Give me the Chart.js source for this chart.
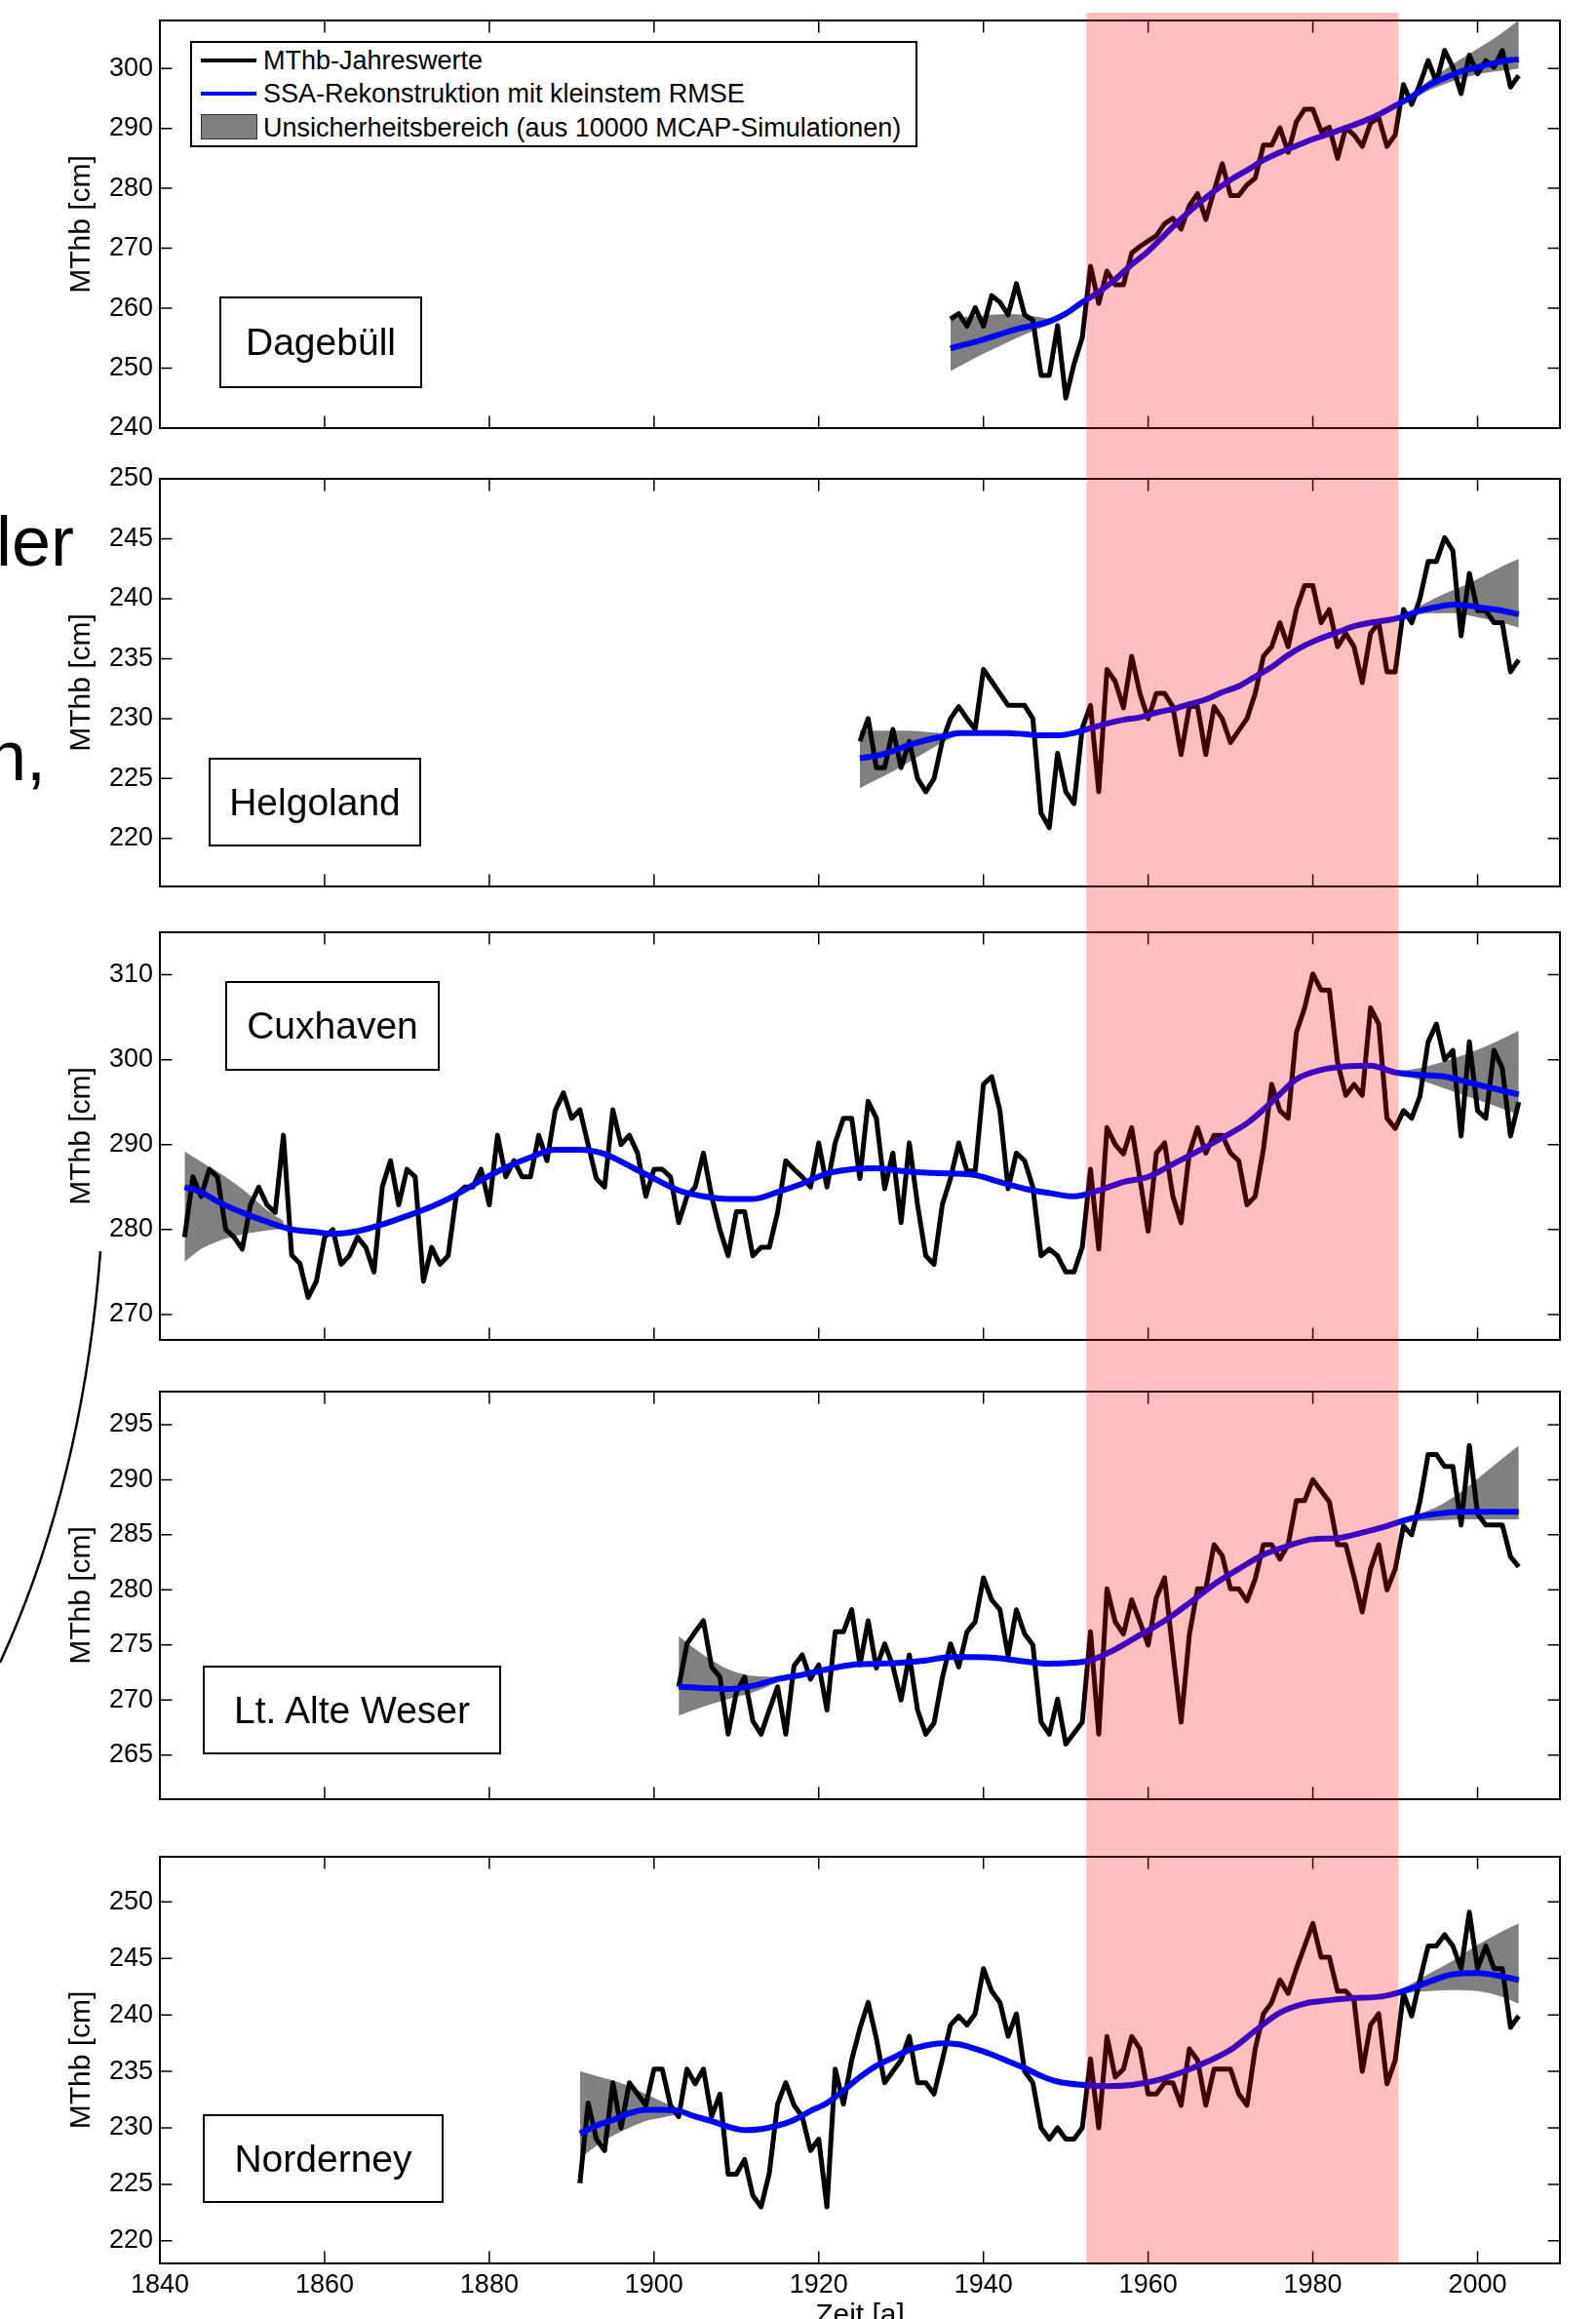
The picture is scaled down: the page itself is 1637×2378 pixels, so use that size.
<!DOCTYPE html>
<html>
<head>
<meta charset="utf-8">
<title>MThb Jahreswerte und SSA-Rekonstruktion</title>
<script src="https://cdn.jsdelivr.net/npm/chart.js@4.4.1/dist/chart.umd.min.js"></script>
<style>
  html, body { margin: 0; padding: 0; background: #fff; }
  body { position: relative; width: 1637px; height: 2378px; overflow: hidden;
         font-family: 'Liberation Sans', Arial, sans-serif; color: #000; }
  canvas.panel { position: absolute; left: 0; }
  .station { position: absolute; z-index: 2; box-sizing: border-box; border: 2.5px solid #000;
             display: flex; align-items: center; justify-content: center; font-size: 39px; white-space: nowrap; }
  #legend { position: absolute; z-index: 2; left: 195px; top: 42px; width: 746px; height: 109px;
            box-sizing: border-box; border: 2px solid #000; background: #fff; }
  #legend .sw { position: absolute; left: 9px; width: 57px; }
  #legend .txt { position: absolute; left: 73px; font-size: 27px; line-height: 30px; white-space: nowrap; }
  .slide { position: absolute; z-index: 2; font-size: 72px; line-height: 72px; white-space: nowrap; }
  svg.deco { position: absolute; left: 0; top: 0; z-index: 2; }
</style>
</head>
<body>

<div id="legend">
  <div class="sw" style="top:16px;height:4px;background:#000"></div>
  <div class="txt" style="top:3px">MThb-Jahreswerte</div>
  <div class="sw" style="top:50px;height:4px;background:#0000ff"></div>
  <div class="txt" style="top:37px">SSA-Rekonstruktion mit kleinstem RMSE</div>
  <div class="sw" style="top:73px;height:26px;box-sizing:border-box;border:1.5px solid #333;background:#808080;width:58px"></div>
  <div class="txt" style="top:72px">Unsicherheitsbereich (aus 10000 MCAP-Simulationen)</div>
</div>

<div class="station" style="left:225px;top:304px;width:208px;height:94px">Dagebüll</div>
<div class="station" style="left:214px;top:777px;width:218px;height:91px">Helgoland</div>
<div class="station" style="left:231px;top:1006px;width:220px;height:92px">Cuxhaven</div>
<div class="station" style="left:208px;top:1708px;width:306px;height:91px">Lt. Alte Weser</div>
<div class="station" style="left:208px;top:2168px;width:247px;height:91px">Norderney</div>

<div class="slide" style="left:-4px;top:519px">ler</div>
<div class="slide" style="left:-13px;top:739px">n,</div>
<svg class="deco" width="200" height="1800">
  <path d="M103,1283 Q85,1520 0,1705" fill="none" stroke="#000" stroke-width="2.5"/>
</svg>

<script>
// ------------------------------------------
// Zeitachse und markierter Zeitraum
// ------------------------------------------
const xTicks = [1840, 1860, 1880, 1900, 1920, 1940, 1960, 1980, 2000];
const markFrom = 1952.5;
const markTo = 1990.4;

// ------------------------------------------
// Dagebüll
// ------------------------------------------
const dagStart = 1936;
const dagMThb = [
  258.2, 259.1, 257.0, 260.1, 257.0, 262.1, 261.0, 258.9, 264.1, 258.9,
  258.0, 248.8, 248.8, 257.1, 245.0, 250.7, 255.1, 267.0, 260.8, 266.2,
  263.9, 263.9, 269.2, 270.3, 271.2, 272.1, 274.1, 275.0, 273.2, 277.1,
  279.1, 274.8, 279.6, 284.1, 278.8, 278.8, 280.6, 281.7, 287.2, 287.2,
  290.1, 286.0, 291.1, 293.2, 293.2, 289.5, 290.2, 285.0, 290.1, 288.9,
  287.0, 290.9, 291.8, 287.0, 288.9, 297.3, 294.0, 297.4, 301.3, 297.7,
  303.0, 300.2, 295.8, 302.2, 299.1, 301.3, 300.2, 303.0, 296.9, 298.8
];
const dagSsaYears = [1936, 1940, 1944, 1948, 1950, 1952, 1954, 1956, 1958, 1960, 1962, 1964, 1966, 1968, 1970, 1972, 1974,
  1976, 1978, 1980, 1982, 1984, 1986, 1988, 1990, 1992, 1994, 1996, 1998, 2000, 2002, 2004, 2005];
const dagSsa = [253.3, 254.8, 256.5, 257.8, 259.1, 261.0, 262.7, 264.8, 267.3, 269.5, 272.2, 274.9, 277.3, 279.5, 281.4, 283.0, 284.7,
  286.0, 287.1, 288.2, 289.1, 290.1, 291.1, 292.3, 293.8, 295.3, 297.1, 298.4, 299.5, 300.2, 300.9, 301.4, 301.5];
const dagBandStartYears = [1936, 1938, 1940, 1942, 1944, 1946, 1948, 1950];
const dagBandStartHigh = [258.4, 258.6, 258.8, 259.0, 259.0, 258.7, 258.3, 259.3];
const dagBandStartLow = [249.5, 251.0, 252.4, 253.7, 255.0, 256.2, 257.3, 258.9];
const dagBandEndYears = [1990, 1992, 1994, 1996, 1998, 2000, 2002, 2004, 2005];
const dagBandEndHigh = [294.0, 295.8, 297.9, 299.8, 301.6, 303.3, 305.0, 307.0, 308.0];
const dagBandEndLow = [293.6, 294.9, 296.3, 297.4, 298.3, 299.0, 299.5, 299.8, 300.0];
const dagTicks = [240, 250, 260, 270, 280, 290, 300];

// ------------------------------------------
// Helgoland
// ------------------------------------------
const helStart = 1925;
const helMThb = [
  228.1, 230.0, 225.9, 225.9, 229.1, 225.9, 228.1, 225.0, 223.9, 225.0,
  228.1, 230.0, 231.0, 230.0, 229.1, 234.1, 233.1, 232.1, 231.1, 231.1,
  231.1, 230.0, 222.1, 220.9, 227.1, 223.9, 222.9, 229.2, 231.1, 223.9,
  234.1, 233.1, 230.9, 235.2, 232.1, 230.0, 232.1, 232.1, 231.0, 227.0,
  231.0, 231.0, 227.0, 231.0, 230.0, 228.0, 229.0, 230.0, 232.1, 235.2,
  236.0, 238.0, 236.0, 239.1, 241.1, 241.1, 238.0, 239.1, 236.0, 237.1,
  236.0, 233.0, 237.1, 238.0, 233.9, 233.9, 239.1, 238.0, 240.0, 243.1,
  243.1, 245.1, 244.0, 236.9, 242.1, 239.0, 239.0, 238.0, 238.0, 233.9,
  234.9
];
const helSsaYears = [1925, 1927, 1929, 1931, 1933, 1935, 1937, 1939, 1941, 1943, 1945, 1947, 1949, 1951, 1953, 1955, 1957,
  1959, 1961, 1963, 1965, 1967, 1969, 1971, 1973, 1975, 1977, 1979, 1981, 1983, 1985, 1987, 1989, 1991, 1993, 1995,
  1997, 1999, 2001, 2003, 2005];
const helSsa = [226.7, 226.9, 227.3, 227.8, 228.2, 228.5, 228.8, 228.8, 228.8, 228.8, 228.7, 228.6, 228.6, 228.8, 229.2, 229.6, 229.9,
  230.1, 230.5, 230.8, 231.2, 231.6, 232.2, 232.7, 233.5, 234.3, 235.3, 236.1, 236.7, 237.2, 237.7, 238.0, 238.2, 238.5, 239.0, 239.3,
  239.5, 239.4, 239.2, 239.0, 238.7];
const helBandStartYears = [1925, 1927, 1929, 1931, 1933, 1935, 1937];
const helBandStartHigh = [229.0, 229.0, 229.0, 229.0, 228.9, 228.8, 228.9];
const helBandStartLow = [224.2, 224.9, 225.6, 226.4, 227.2, 228.0, 228.6];
const helBandEndYears = [1991, 1993, 1995, 1997, 1999, 2001, 2003, 2005];
const helBandEndHigh = [238.7, 239.4, 240.1, 240.7, 241.3, 242.0, 242.7, 243.3];
const helBandEndLow = [238.3, 238.7, 238.8, 238.8, 238.6, 238.3, 238.0, 237.6];
const helTicks = [220, 225, 230, 235, 240, 245, 250];

// ------------------------------------------
// Cuxhaven
// ------------------------------------------
const cuxStart = 1843;
const cuxMThb = [
  279.1, 286.2, 283.9, 287.1, 286.2, 280.0, 279.1, 277.7, 282.9, 285.0,
  282.9, 282.0, 291.1, 277.0, 276.0, 272.0, 273.9, 279.1, 280.0, 275.9,
  276.9, 279.1, 277.9, 275.0, 285.0, 288.1, 282.9, 287.1, 286.2, 273.9,
  277.9, 275.9, 276.9, 284.1, 285.0, 285.0, 287.1, 282.9, 291.1, 286.2,
  288.1, 286.2, 286.2, 291.1, 288.1, 294.0, 296.1, 293.1, 294.1, 290.0,
  286.0, 285.0, 294.1, 290.0, 291.1, 289.0, 283.9, 287.1, 287.1, 286.2,
  280.8, 283.9, 285.0, 289.0, 283.9, 280.0, 276.9, 282.1, 282.1, 276.9,
  277.9, 277.9, 282.0, 288.1, 287.1, 286.2, 285.0, 290.2, 285.0, 290.2,
  293.1, 293.1, 286.0, 295.1, 293.1, 284.8, 289.0, 280.8, 290.2, 282.9,
  276.9, 275.9, 282.9, 286.0, 290.2, 286.9, 286.9, 297.1, 298.0, 294.0,
  284.8, 289.0, 288.1, 285.0, 276.9, 277.7, 276.9, 275.0, 275.0, 277.9,
  287.1, 277.7, 292.0, 290.0, 288.9, 292.0, 286.0, 279.8, 289.0, 290.2,
  283.9, 280.8, 289.0, 292.0, 289.0, 291.1, 291.1, 289.0, 288.1, 282.9,
  283.9, 289.5, 297.1, 294.0, 293.1, 303.2, 306.1, 310.1, 308.2, 308.2,
  299.7, 295.8, 297.1, 295.8, 306.1, 304.2, 293.1, 291.9, 294.0, 293.1,
  295.7, 302.1, 304.2, 300.0, 301.1, 291.0, 302.1, 294.0, 293.1, 301.1,
  299.0, 291.0, 295.0
];
const cuxSsaYears = [1843, 1845, 1847, 1850, 1853, 1856, 1859, 1861, 1864, 1867, 1870, 1873, 1876, 1879, 1882, 1885, 1888,
  1891, 1894, 1897, 1900, 1903, 1906, 1909, 1912, 1915, 1918, 1921, 1924, 1927, 1930, 1933, 1936, 1939, 1942, 1945,
  1948, 1951, 1954, 1957, 1960, 1963, 1966, 1969, 1972, 1975, 1978, 1981, 1984, 1987, 1990, 1993, 1996, 1999, 2002, 2005];
const cuxSsa = [285.0, 284.4, 283.3, 282.0, 280.9, 280.0, 279.7, 279.5, 279.8, 280.6, 281.6, 282.7, 284.1, 285.8, 287.3, 288.5, 289.4,
  289.4, 288.9, 287.5, 286.0, 284.6, 283.9, 283.6, 283.6, 284.4, 285.4, 286.6, 287.1, 287.2, 286.9, 286.7, 286.6, 286.4, 285.6, 284.8,
  284.3, 283.9, 284.6, 285.6, 286.2, 287.7, 289.2, 290.8, 292.5, 295.0, 297.7, 298.8, 299.2, 299.3, 298.5, 298.2, 298.0, 297.3, 296.6, 295.9];
const cuxBandStartYears = [1843, 1845, 1847, 1849, 1851, 1853, 1855];
const cuxBandStartHigh = [289.2, 288.0, 286.8, 285.5, 284.0, 282.3, 281.0];
const cuxBandStartLow = [276.2, 277.7, 278.6, 279.2, 279.6, 279.9, 280.1];
const cuxBandEndYears = [1990, 1993, 1996, 1999, 2002, 2005];
const cuxBandEndHigh = [298.6, 299.0, 299.8, 300.8, 302.0, 303.4];
const cuxBandEndLow = [298.4, 297.6, 296.6, 295.6, 294.6, 293.5];
const cuxTicks = [270, 280, 290, 300, 310];

// ------------------------------------------
// Lt. Alte Weser
// ------------------------------------------
const lawStart = 1903;
const lawMThb = [
  271.2, 275.1, 276.2, 277.2, 273.0, 272.1, 266.9, 270.7, 272.1, 268.1,
  266.9, 269.1, 271.2, 266.9, 273.1, 274.1, 271.9, 273.2, 269.1, 276.2,
  276.2, 278.2, 273.2, 277.2, 272.9, 275.1, 273.1, 270.0, 274.1, 269.1,
  266.9, 267.9, 272.0, 275.1, 273.0, 276.2, 277.1, 281.1, 279.1, 278.2,
  274.0, 278.2, 276.0, 275.0, 268.0, 266.9, 270.1, 266.0, 267.0, 268.0,
  276.2, 266.9, 280.1, 277.1, 276.0, 279.1, 277.1, 275.0, 279.3, 281.1,
  274.4, 268.0, 275.9, 280.1, 280.1, 284.1, 283.1, 280.1, 280.1, 279.0,
  281.0, 284.1, 284.1, 282.8, 284.1, 288.1, 288.1, 290.0, 289.0, 288.0,
  284.1, 284.1, 281.2, 278.0, 281.9, 284.1, 280.0, 281.9, 285.8, 285.0,
  288.0, 292.3, 292.3, 291.2, 291.2, 285.9, 293.1, 286.9, 285.9, 285.9,
  285.9, 283.0, 282.1
];
const lawSsaYears = [1903, 1906, 1909, 1912, 1915, 1918, 1921, 1924, 1927, 1930, 1933, 1936, 1939, 1942, 1945, 1948, 1951,
  1953, 1956, 1959, 1962, 1965, 1968, 1971, 1974, 1977, 1980, 1983, 1986, 1989, 1992, 1995, 1998, 2001, 2005];
const lawSsa = [271.2, 271.1, 271.0, 271.3, 271.9, 272.3, 272.8, 273.2, 273.3, 273.4, 273.6, 273.9, 273.9, 273.8, 273.5, 273.3, 273.4,
  273.6, 274.6, 275.9, 277.2, 278.8, 280.5, 281.9, 283.2, 284.0, 284.6, 284.7, 285.2, 285.8, 286.5, 286.9, 287.1, 287.1, 287.1];
const lawBandStartYears = [1903, 1906, 1909, 1912, 1915];
const lawBandStartHigh = [275.8, 274.1, 272.8, 272.2, 272.1];
const lawBandStartLow = [268.6, 269.4, 270.1, 270.7, 271.6];
const lawBandEndYears = [1989, 1992, 1995, 1998, 2001, 2005];
const lawBandEndHigh = [285.9, 286.7, 287.5, 288.9, 290.7, 293.1];
const lawBandEndLow = [285.7, 286.2, 286.3, 286.4, 286.4, 286.4];
const lawTicks = [265, 270, 275, 280, 285, 290, 295];

// ------------------------------------------
// Norderney
// ------------------------------------------
const norStart = 1891;
const norMThb = [
  225.1, 232.2, 229.0, 228.0, 234.0, 230.0, 234.0, 233.0, 232.0, 235.2,
  235.2, 232.0, 231.0, 235.2, 233.9, 235.2, 231.0, 233.0, 225.9, 225.9,
  227.2, 224.0, 223.0, 226.0, 232.1, 234.0, 232.0, 231.0, 228.0, 229.0,
  223.0, 235.2, 232.1, 236.0, 238.8, 241.1, 237.9, 234.0, 235.0, 236.0,
  238.1, 234.0, 234.0, 233.0, 236.0, 239.1, 239.9, 239.1, 240.1, 244.1,
  242.1, 241.1, 238.1, 240.1, 235.0, 234.0, 230.0, 229.0, 230.0, 229.0,
  229.0, 230.0, 236.1, 230.0, 238.1, 234.5, 235.2, 238.1, 237.0, 233.0,
  233.0, 234.0, 234.0, 232.0, 237.0, 236.0, 232.0, 235.2, 235.2, 235.2,
  233.0, 232.0, 237.0, 240.1, 241.1, 243.1, 241.9, 244.1, 246.1, 248.1,
  245.1, 245.1, 242.1, 242.1, 241.3, 235.0, 239.1, 240.1, 233.9, 236.0,
  241.9, 239.9, 243.1, 246.1, 246.1, 247.1, 246.1, 244.1, 249.1, 244.1,
  246.1, 244.1, 244.1, 238.9, 239.9
];
const norSsaYears = [1891, 1893, 1895, 1897, 1899, 1901, 1903, 1905, 1907, 1909, 1911, 1913, 1915, 1917, 1919, 1921, 1923,
  1925, 1927, 1929, 1931, 1933, 1935, 1937, 1939, 1941, 1943, 1945, 1947, 1949, 1952, 1955, 1958, 1961, 1964, 1967,
  1970, 1973, 1976, 1979, 1982, 1985, 1988, 1991, 1994, 1997, 2000, 2003, 2005];
const norSsa = [229.5, 230.2, 230.7, 231.3, 231.6, 231.6, 231.5, 231.0, 230.6, 230.1, 229.8, 229.9, 230.2, 230.7, 231.5, 232.2, 233.3,
  234.5, 235.5, 236.2, 236.9, 237.3, 237.5, 237.4, 237.0, 236.5, 235.9, 235.3, 234.6, 234.1, 233.8, 233.7, 233.8, 234.2, 234.9, 235.8,
  236.9, 238.6, 240.2, 241.0, 241.3, 241.5, 241.6, 242.1, 242.9, 243.6, 243.7, 243.4, 243.1];
const norBandStartYears = [1891, 1893, 1895, 1897, 1899, 1901, 1903];
const norBandStartHigh = [235.0, 234.6, 234.2, 233.7, 233.0, 232.3, 231.7];
const norBandStartLow = [227.3, 228.4, 229.3, 230.0, 230.6, 230.9, 231.2];
const norBandEndYears = [1988, 1991, 1994, 1997, 2000, 2003, 2005];
const norBandEndHigh = [241.7, 242.4, 243.6, 244.8, 246.2, 247.4, 248.1];
const norBandEndLow = [241.5, 241.9, 242.1, 242.2, 242.1, 241.6, 241.0];
const norTicks = [220, 225, 230, 235, 240, 245, 250];

// ------------------------------------------
// Panels: Lage auf der Seite (Pixel) und Achsenbereiche
// ------------------------------------------
const panels = [
  { start: dagStart, values: dagMThb, ssaYears: dagSsaYears, ssa: dagSsa,
    bandA: [dagBandStartYears, dagBandStartLow, dagBandStartHigh], bandB: [dagBandEndYears, dagBandEndLow, dagBandEndHigh],
    yTicks: dagTicks, yMin: 240, yMax: 308,
    canvasTop: 0, canvasH: 465, padTop: 21, padBottom: 26, xAxisH: 0, showX: false, markTop: 13 },
  { start: helStart, values: helMThb, ssaYears: helSsaYears, ssa: helSsa,
    bandA: [helBandStartYears, helBandStartLow, helBandStartHigh], bandB: [helBandEndYears, helBandEndLow, helBandEndHigh],
    yTicks: helTicks, yMin: 216, yMax: 250,
    canvasTop: 465, canvasH: 467, padTop: 26, padBottom: 23, xAxisH: 0, showX: false, markTop: 0 },
  { start: cuxStart, values: cuxMThb, ssaYears: cuxSsaYears, ssa: cuxSsa,
    bandA: [cuxBandStartYears, cuxBandStartLow, cuxBandStartHigh], bandB: [cuxBandEndYears, cuxBandEndLow, cuxBandEndHigh],
    yTicks: cuxTicks, yMin: 267, yMax: 315,
    canvasTop: 932, canvasH: 468, padTop: 24, padBottom: 26, xAxisH: 0, showX: false, markTop: 0 },
  { start: lawStart, values: lawMThb, ssaYears: lawSsaYears, ssa: lawSsa,
    bandA: [lawBandStartYears, lawBandStartLow, lawBandStartHigh], bandB: [lawBandEndYears, lawBandEndLow, lawBandEndHigh],
    yTicks: lawTicks, yMin: 261, yMax: 298,
    canvasTop: 1400, canvasH: 474, padTop: 27, padBottom: 29, xAxisH: 0, showX: false, markTop: 0 },
  { start: norStart, values: norMThb, ssaYears: norSsaYears, ssa: norSsa,
    bandA: [norBandStartYears, norBandStartLow, norBandStartHigh], bandB: [norBandEndYears, norBandEndLow, norBandEndHigh],
    yTicks: norTicks, yMin: 218, yMax: 254,
    canvasTop: 1874, canvasH: 519, padTop: 30, padBottom: 0, xAxisH: 72, showX: true, markTop: 0, markToAxis: true }
];

Chart.defaults.font.family = "'Liberation Sans', Arial, sans-serif";
Chart.defaults.color = '#000';

// Rahmen mit Innen-Ticks (MATLAB-Stil) + roter Zeitraum obendrauf
const framePlugin = {
  id: 'frame',
  afterDraw(chart, args, opts) {
    const { ctx, chartArea: a, scales: { x, y } } = chart;
    const tl = 12.5;
    ctx.save();
    ctx.strokeStyle = '#000';
    ctx.lineWidth = 1.5;
    ctx.beginPath();
    x.ticks.forEach(t => {
      const px = x.getPixelForValue(t.value);
      ctx.moveTo(px, a.bottom); ctx.lineTo(px, a.bottom - tl);
      ctx.moveTo(px, a.top); ctx.lineTo(px, a.top + tl);
    });
    y.ticks.forEach(t => {
      const py = y.getPixelForValue(t.value);
      ctx.moveTo(a.left, py); ctx.lineTo(a.left + tl, py);
      ctx.moveTo(a.right, py); ctx.lineTo(a.right - tl, py);
    });
    ctx.stroke();
    ctx.lineWidth = 2;
    ctx.strokeRect(a.left, a.top, a.right - a.left, a.bottom - a.top);

    const x1 = x.getPixelForValue(opts.from);
    const x2 = x.getPixelForValue(opts.to);
    const yBottom = opts.toAxis ? a.bottom : chart.height;
    ctx.fillStyle = 'rgba(255, 0, 0, 0.25)';
    ctx.fillRect(x1, opts.top, x2 - x1, yBottom - opts.top);
    ctx.restore();
  }
};

const toPoints = (xs, ys) => xs.map((v, i) => ({ x: v, y: ys[i] }));

panels.forEach(p => {
  const canvas = document.createElement('canvas');
  canvas.className = 'panel';
  canvas.width = 1637;
  canvas.height = p.canvasH;
  canvas.style.top = p.canvasTop + 'px';
  canvas.style.width = '1637px';
  canvas.style.height = p.canvasH + 'px';
  document.body.appendChild(canvas);

  const annual = p.values.map((v, i) => ({ x: p.start + i, y: v }));
  const band = (d, isHigh) => ({
    data: toPoints(d[0], isHigh ? d[2] : d[1]),
    borderWidth: 0,
    borderColor: 'rgba(0,0,0,0)',
    backgroundColor: '#808080',
    fill: isHigh ? '-1' : false,
    cubicInterpolationMode: 'monotone'
  });

  new Chart(canvas, {
    type: 'line',
    data: {
      datasets: [
        { label: 'SSA-Rekonstruktion mit kleinstem RMSE', data: toPoints(p.ssaYears, p.ssa),
          borderColor: '#0000ff', borderWidth: 6, cubicInterpolationMode: 'monotone', fill: false },
        { label: 'MThb-Jahreswerte', data: annual,
          borderColor: '#000000', borderWidth: 5, borderJoinStyle: 'round', fill: false },
        band(p.bandA, false),
        band(p.bandA, true),
        band(p.bandB, false),
        band(p.bandB, true)
      ]
    },
    options: {
      responsive: false,
      animation: false,
      devicePixelRatio: 1,
      events: [],
      elements: { point: { radius: 0 }, line: { tension: 0 } },
      layout: { padding: { left: 0, right: 37, top: p.padTop, bottom: p.padBottom } },
      plugins: {
        legend: { display: false },
        tooltip: { enabled: false },
        frame: { from: markFrom, to: markTo, top: p.markTop, toAxis: !!p.markToAxis }
      },
      scales: {
        x: {
          type: 'linear', min: 1840, max: 2010,
          afterBuildTicks: s => { s.ticks = xTicks.map(v => ({ value: v })); },
          afterFit: s => { s.height = p.xAxisH; s.paddingLeft = 0; s.paddingRight = 0; },
          grid: { display: false, drawTicks: false },
          border: { display: false },
          ticks: { display: p.showX, font: { size: 27 }, color: '#000', padding: 6,
                   maxRotation: 0, autoSkip: false, callback: v => String(v) },
          title: { display: p.showX, text: 'Zeit [a]', font: { size: 30 }, color: '#000', padding: 0 }
        },
        y: {
          min: p.yMin, max: p.yMax,
          afterBuildTicks: s => { s.ticks = p.yTicks.map(v => ({ value: v })); },
          afterFit: s => { s.width = 164; s.paddingTop = 0; s.paddingBottom = 0; },
          grid: { display: false, drawTicks: false },
          border: { display: false },
          ticks: { font: { size: 27 }, color: '#000', padding: 7, callback: v => String(v) },
          title: { display: true, text: 'MThb [cm]', font: { size: 30 }, color: '#000',
                   padding: { top: 66, bottom: 0 } }
        }
      }
    },
    plugins: [framePlugin]
  });
});
</script>
</body>
</html>
